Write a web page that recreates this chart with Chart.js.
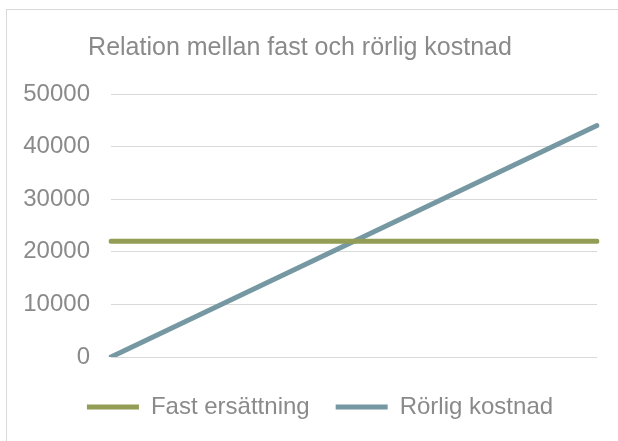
<!DOCTYPE html>
<html>
<head>
<meta charset="utf-8">
<script src="https://cdn.jsdelivr.net/npm/chart.js@4/dist/chart.umd.min.js"></script>
<style>
  html, body { margin: 0; padding: 0; background: #fff; }
  #wrap { position: relative; width: 618px; height: 441px; overflow: hidden; }
  #frame { position: absolute; left: 6px; top: 9px; width: 700px; height: 500px; border: 1px solid #d9d9d9; }
  #chart { position: absolute; left: 0; top: 0; }
</style>
</head>
<body>
<div id="wrap">
  <div id="frame"></div>
  <canvas id="chart" width="618" height="441"></canvas>
</div>
<script>
// Data
var categories = ['Start', 'Slut'];
var fastErsattning = [22000, 22000];
var rorligKostnad = [0, 44000];
var yTicks = [0, 10000, 20000, 30000, 40000, 50000];

var textColor = '#8a8a8a';
var font = { family: 'Liberation Sans, Arial, sans-serif', size: 24, weight: 'normal' };

// legend sits a bit right of centre and the title a bit left in the original
var nudge = {
  id: 'nudge',
  afterLayout: function(chart) {
    chart.legend.left += 10.5;
    chart.legend.right += 10.5;
    chart.titleBlock.left -= 9.5;
    chart.titleBlock.right -= 9.5;
  }
};

document.addEventListener('DOMContentLoaded', function() {
  var ctx = document.getElementById('chart').getContext('2d');
  var chart = new Chart(ctx, {
    type: 'line',
    data: {
      labels: categories,
      datasets: [{
        label: 'Fast ersättning',
        data: fastErsattning,
        borderColor: '#949d55',
        backgroundColor: '#949d55',
        borderWidth: 5,
        borderCapStyle: 'round',
        pointRadius: 0,
        fill: false
      }, {
        label: 'Rörlig kostnad',
        data: rorligKostnad,
        borderColor: '#7598a3',
        backgroundColor: '#7598a3',
        borderWidth: 5,
        borderCapStyle: 'round',
        pointRadius: 0,
        fill: false
      }]
    },
    options: {
      responsive: false,
      animation: false,
      layout: { padding: { left: 22, right: 21, top: 0, bottom: 12 } },
      plugins: {
        title: {
          display: true,
          text: 'Relation mellan fast och rörlig kostnad',
          color: textColor,
          font: { family: font.family, size: 25, weight: 'normal' },
          padding: { top: 33, bottom: 31 }
        },
        legend: {
          position: 'bottom',
          labels: {
            color: textColor,
            font: font,
            usePointStyle: true,
            pointStyle: 'line',
            pointStyleWidth: 52,
            padding: 26
          }
        },
        tooltip: { enabled: false }
      },
      scales: {
        x: {
          offset: false,
          grid: { display: false },
          border: { display: false },
          ticks: { display: false },
          afterFit: function(s) { s.height = 12; }
        },
        y: {
          min: 0,
          max: 50000,
          afterBuildTicks: function(s) { s.ticks = yTicks.map(function(v) { return { value: v }; }); },
          grid: { color: '#d9d9d9', lineWidth: 1, drawTicks: false },
          border: { display: false },
          ticks: {
            color: textColor,
            font: font,
            padding: 21,
            callback: function(v) { return String(v); }
          },
          afterFit: function(s) { s.width = 89; }
        }
      }
    },
    plugins: [nudge]
  });
});
</script>
</body>
</html>
